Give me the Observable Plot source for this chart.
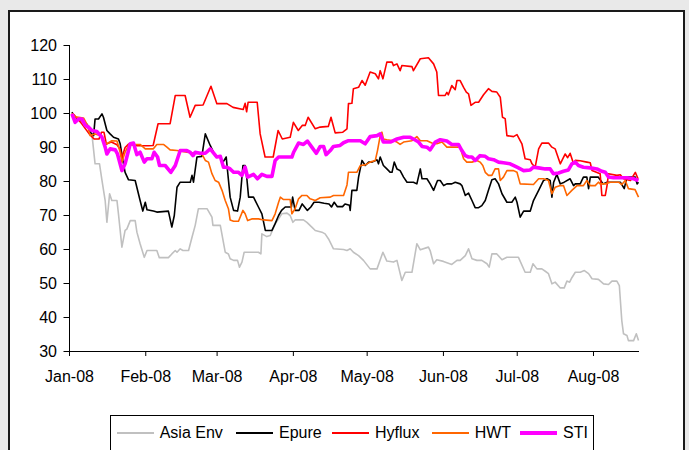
<!DOCTYPE html>
<html><head><meta charset="utf-8">
<script src="https://cdn.jsdelivr.net/npm/d3@7"></script>
<script src="https://cdn.jsdelivr.net/npm/@observablehq/plot@0.6"></script>
<style>
html,body{margin:0;padding:0;background:#e9e9e9;width:689px;height:450px;overflow:hidden;font-family:"Liberation Sans",Arial,sans-serif;}
#frame{position:absolute;left:8px;top:10px;width:673px;height:470px;background:#fff;border:2px solid #1a1a1a;}
#chart{position:absolute;left:0;top:0;}
#legend{position:absolute;left:110px;top:415px;width:484px;height:60px;border:1px solid #000;background:#fff;box-sizing:border-box;}
.item{position:absolute;top:9px;display:flex;align-items:center;font-size:16px;line-height:16px;color:#000;}
.swatch{display:inline-block;width:37px;margin-right:6px;}
</style>
</head><body>
<div id="frame"></div>
<div id="chart"></div>
<div id="legend"></div>
<script>
// Series names and colours
const seriesNames = ["Asia Env", "Epure", "Hyflux", "HWT", "STI"];
const seriesColors = ["#c0c0c0", "#000000", "#ff0000", "#ff6600", "#ff00ff"];
const seriesWidths = [1.6, 1.6, 1.6, 1.6, 3.6];

// Values: [day since 1 Jan 2008, indexed value]
const asiaEnv = [[1,100],[2.3,99],[4.3,98],[7.7,96.5],[9.1,94],[10.4,85.2],[12.2,85.2],[13.2,80.3],[14.5,74.4],[15.2,68],[16.3,76.4],[17.2,74.4],[19.3,74.4],[19.9,70.5],[21.3,60.7],[22.6,65.6],[23.3,66],[24.7,68.5],[26.7,68.5],[27.4,65.1],[28.7,61.7],[30.4,57.7],[31.5,59.7],[35.5,59.7],[36.5,57.6],[40.2,57.6],[41.6,58.7],[43,59.7],[43.7,59.2],[45,60.2],[46.1,59.7],[48.4,59.7],[49.8,63.6],[51.1,67.1],[52.4,72],[55.9,72],[57.9,69.5],[58.3,67.1],[61.3,67.1],[63.3,59.2],[64.6,58.7],[65.3,57.3],[66.7,56.8],[68.3,56.8],[69.1,54.8],[70.1,56.3],[71,59.2],[76.8,59.2],[77.8,58.7],[78.2,64.6],[80.2,63.8],[81.6,64.1],[83.6,67.6],[85,69],[86.3,70.5],[88.4,70.7],[89.7,70],[90.8,68],[91.7,68.7],[95.1,68.7],[96.5,68],[98.5,66.6],[99.9,65.6],[102.6,65.1],[103.9,64.6],[105.3,63.1],[107.3,60.2],[111.4,60],[112.8,59.7],[114.1,60.2],[115.4,59.2],[117.5,58.2],[119.5,56.8],[122.2,54.3],[125,54.3],[127.4,59.2],[129,56.6],[131.7,56.3],[133.1,56.8],[135.1,50.9],[136.5,53.3],[139.2,53.3],[141.2,61.7],[142.6,59.9],[145.9,60.7],[146.6,59.7],[148,55.8],[149.3,57],[152,56.5],[155.4,55.6],[157.5,56.8],[158.8,56.8],[160.9,58.2],[162.2,60.2],[163.6,57.3],[165.6,56.8],[167.6,56.8],[169.7,55.8],[170.6,54.8],[171.7,58.7],[173.7,58.7],[175.8,57],[177.8,57.7],[182.5,57.7],[185.2,53.3],[187.3,53.3],[188.4,55.8],[190,54.3],[192,54.3],[193.4,53.6],[194.7,52.9],[196.1,49.9],[197.4,50.4],[199.5,48.7],[201.1,48.7],[202.2,50.7],[203.3,50.4],[204.2,51.7],[205.6,53.3],[207.6,53.3],[209.3,53.8],[211,52.9],[212.4,51.4],[215,51.2],[217.1,49.9],[219.1,49.7],[220.5,50.7],[222.5,50.7],[223.5,49.4],[224.5,39.1],[225.2,35.2],[226.6,34.7],[227.2,33.2],[229.3,33.2],[230.4,35.2],[231.3,33.2]];

const epure = [[1,100.4],[2,99],[5,98],[7.1,96.8],[8.4,94.5],[9.8,93.5],[10.4,98.4],[11.8,98.4],[13.2,99.9],[13.8,98.9],[15.2,95],[16.5,94],[17.9,93],[19.9,92.5],[20.6,91.1],[21.7,86.2],[22.6,82.7],[24,80.5],[26.7,80.3],[28.7,74.4],[29.8,71.3],[30.8,73.9],[31.5,71.7],[34.1,71.3],[35.5,71],[40.2,71.3],[41.6,66.6],[42.6,70],[43.7,78.3],[45,79.8],[49.1,79.8],[49.8,81.8],[50.4,79.8],[51.8,87.2],[53.8,87.4],[55.2,94],[57.2,90.6],[59.2,87.6],[61.3,87.2],[62.4,85.7],[63.7,87.2],[64.1,84.2],[65.3,75.4],[66.7,71.5],[68.3,71.3],[69.4,75.4],[70.5,84.7],[71.4,84.7],[72.1,80.8],[72.8,75.4],[74.8,75.4],[76.8,72.5],[78.2,70.5],[79.6,65.6],[82.3,65.6],[83.6,67.6],[85,70],[86.2,71.5],[87.7,72.5],[90.2,72.5],[90.7,75.4],[91.7,71.5],[93.3,71.5],[94.6,73.4],[96.7,71.5],[98.1,72.5],[99.4,73.9],[101.4,73.9],[103.5,73.6],[105.5,73.4],[106.5,72.5],[107.6,73.9],[108.9,72.6],[111,72.6],[112,73.4],[113.8,73],[114.1,71.5],[114.8,77.4],[116.8,77.4],[117.5,81.3],[118.9,86.2],[120.2,84.7],[121.6,85.7],[123,85.7],[125,86.4],[125.6,85.2],[126.3,87.2],[127.6,84.7],[129,83.7],[130.4,82.7],[131.1,82.7],[132,85.7],[133.1,83.7],[134.4,83.2],[135.8,81.3],[137.2,79.8],[139.8,79.8],[141.2,79.3],[142.6,83.7],[143.3,80.8],[145.3,80.8],[146.6,79.3],[148,77.4],[149.6,80.3],[150.7,80.3],[152.1,78.8],[153.4,79.3],[155.4,79.3],[156.8,79.8],[158.8,79.3],[159.5,78.8],[160.9,75.9],[162.2,76.6],[163.6,74.4],[164.9,72.3],[166.3,72.3],[167.6,72.9],[169,74.4],[170.3,77.4],[171.7,80.5],[173,80.8],[174.4,79.3],[175.8,76.4],[177.8,73.9],[179.8,73.9],[181.2,75.4],[181.9,73.9],[183.2,69.5],[184.6,71.3],[187.3,71.3],[188.6,74.4],[190.7,77.4],[192.7,80.3],[194.1,80.8],[195.4,80.3],[196.1,75.4],[196.8,79.8],[198.1,82.1],[199.5,79.3],[201.1,79.8],[203.5,80.8],[204.9,78.8],[205.6,79.3],[207.6,79.3],[208.9,81.3],[210.3,81.3],[211,77.9],[211.7,81.3],[214.9,81.3],[216.9,79.3],[218.5,79.8],[223.9,79.8],[225.5,77.9],[226.6,81.3],[230,81.3],[230.7,79.3],[231.3,79.8]];

const hyflux = [[1,100],[2,99.5],[5,97],[8,94],[10,92.5],[12,92.5],[13,94.5],[14,94.5],[15,91],[17,91.6],[19.3,90.8],[20.6,89.5],[21.3,87],[22.6,90],[24,91],[27.5,90.5],[32,90.5],[34,90.6],[36,97],[40.9,97],[43,105.3],[47,105.3],[49,98.9],[51.1,102.4],[54.3,102.5],[57.5,108],[59.9,102.9],[64,102.9],[66.5,101.8],[70.6,101.2],[71.4,103],[72,100.5],[72.6,103.3],[76.3,103.3],[77.5,94],[79.5,87.2],[82.8,87.2],[84.8,95],[86.5,92.5],[89.7,93],[91,97.4],[93,95],[94.6,96.5],[95.8,96.5],[97,98.9],[99.9,95.5],[101.9,96],[105.2,96.2],[106.3,98.9],[108,94.3],[111.1,94.5],[112.8,95.5],[113.4,102.9],[114.8,103],[115.4,107.3],[117.5,107.7],[118.9,109.7],[120.2,108.3],[122.2,112.2],[124.3,111.7],[125.6,110.2],[126.3,112.6],[127.4,110.2],[129,115.1],[131.1,115.1],[131.7,114.1],[133.1,114.6],[134.4,112.6],[135.1,114.1],[139.2,113.8],[139.8,112.6],[142.6,116.1],[145.9,116.4],[148,114.6],[149.3,112.2],[150,105.3],[152.7,105.3],[153.4,106.2],[154,105.5],[155.4,108.2],[156.8,107],[157.5,109.7],[158.8,109.7],[160.2,107.7],[161.3,106.3],[162.2,105.8],[163.2,102.4],[164.9,103.3],[166.3,103.3],[168.3,105.5],[170.3,107.3],[171.7,106.5],[173.7,106.3],[175.1,104.8],[176,98.9],[177.1,98.5],[177.8,93.5],[180.5,93.2],[181.9,93.8],[183.9,91.1],[185.2,86.7],[187.3,86.4],[188,85.2],[189.3,84.2],[190.7,89.6],[192,91.3],[194.7,91.3],[196.1,90.1],[197.4,89.6],[199.5,85.2],[201.5,88.1],[202.5,87],[203.5,88.3],[204.9,85.2],[205.6,86.2],[207.6,86.1],[210.3,85.7],[211.7,85.5],[212.4,83.2],[215.7,82.3],[216.4,75.9],[217.8,75.9],[218.5,78.8],[219.1,82.3],[222.5,81.8],[223.9,82],[225.2,80.8],[228,80.3],[230,82.7],[231.1,80.8]];

const hwt = [[1,100],[2.3,99],[5.7,98.7],[7.3,96.5],[8.4,93.5],[10.4,94],[12.5,93.5],[13.8,92],[15.2,91.1],[17.2,92],[19.3,91.9],[20.6,88.6],[21.3,85.7],[22.6,88.6],[24,90.6],[25.4,90.9],[28.7,90.9],[30.8,89.6],[34.1,89.6],[35.5,90.9],[38.2,90.9],[39.6,90.1],[40.9,89.3],[43.7,89.1],[47.7,88.6],[51.1,88.3],[53.8,88.1],[55.2,86.2],[56.5,85.7],[57.9,82.3],[59.2,80.3],[60.6,79.8],[62,77.4],[63.3,74.4],[64.6,72],[65.3,68.7],[66.7,68.3],[68.7,68.3],[70.5,71.5],[71.4,70.5],[72.4,68.5],[74.1,69],[76.8,69],[78.9,68.7],[82.3,68.5],[83.6,70.5],[85,73.9],[85.7,75.4],[87,74.7],[89.7,74.7],[90.4,70.5],[91.7,72],[93.1,74.9],[94.5,75.9],[96.5,75.9],[97.8,74.9],[99.9,74.4],[101.9,75.2],[106,75.4],[107.3,75.9],[111.4,75.9],[112.8,79],[113.4,82.7],[116.8,82.7],[118.2,84.7],[120.2,84.9],[122.2,85.7],[124.3,86.2],[125.2,89.1],[126.3,93.5],[127,94.5],[127.6,92.5],[129,92.3],[131.7,92],[133.1,91.6],[134.4,90.9],[135.8,91.6],[139.2,92],[141.2,93.2],[142.6,92],[145.3,92],[147.3,91.3],[149.3,91.1],[151.4,91.6],[153.4,90.1],[158.8,90.1],[160.2,86.7],[161.5,85.7],[163.6,85.7],[165.6,86.2],[166.9,85.7],[168,84.7],[169,82.7],[170.3,81.8],[171.7,81.8],[173,83.7],[174.4,83.7],[175.1,80.3],[176.4,81.3],[177.8,83.2],[180.5,83.2],[181.9,82.7],[183.2,79.3],[188.6,79.1],[190.7,80.8],[192.7,80.8],[194.7,80.3],[196.1,76.4],[197.4,78.3],[199.5,78.8],[200.8,78.8],[202.2,75.9],[204.2,77.4],[206.3,78.8],[208.9,78.8],[210.3,80.3],[211.7,78.8],[213.7,78.8],[215,79.8],[215.7,79.3],[217.8,79.3],[219.8,79.8],[223.2,79.8],[224.5,79.1],[225.9,80.3],[227.2,77.9],[229.9,77.6],[231.3,75.4]];

const sti = [[1,99.9],[2.3,97.4],[3.7,98.4],[5,98.4],[6.4,96.5],[7.7,96],[9.1,95],[11.1,94.7],[13.2,93],[14.5,90.1],[15.2,88.1],[16.5,89.6],[18.6,89.3],[19.5,88.1],[21.3,83.2],[22.6,85.2],[24.7,91.1],[26,91.3],[27.4,87.9],[28.7,88.6],[30.4,85.7],[31.5,86.7],[33.5,86.7],[34.4,88.6],[35.8,87.2],[36.6,84.7],[38.9,84.7],[41.2,82.7],[43,84.7],[45,89.1],[47.7,89.1],[49.1,88.6],[50.2,87.6],[51.1,88.6],[53.1,88.3],[55.2,88.3],[57.2,89.6],[59.9,87.2],[61.3,87.4],[62.6,84.2],[64,84.2],[65.3,83.7],[66.7,82.7],[68.7,82.7],[70.1,81.8],[71.4,84.2],[72.4,81.3],[74.8,82.1],[76.4,80.8],[78.2,82.1],[80.2,81.5],[82.3,81.5],[83.6,86.2],[85,87.2],[90.4,87.2],[91.1,88.6],[93.1,91.3],[95.1,90.9],[96.7,91.9],[98.5,90.1],[100.3,88.3],[101.9,90.3],[103.3,90.3],[104.3,87.9],[106,89.1],[107.3,90.3],[110,90.6],[111.4,91.4],[113.4,92],[118.2,92],[120.2,91.1],[122.2,93.2],[125,93.5],[126.3,94],[127.6,91.6],[130.4,91.6],[133.1,92.5],[135.8,93],[138.5,93],[139.8,92.5],[141.9,91.6],[143.3,90.3],[145.3,90.1],[146.6,89.3],[148.7,91.6],[150.7,92.3],[153.4,91.9],[155.4,90.9],[158.1,90.9],[159.5,89.1],[160.9,87.6],[162.2,87.2],[163.6,87.2],[164.9,86.2],[166.9,87.6],[169,87.4],[170.3,86.7],[172.4,86.4],[174.4,85.7],[176.4,85.5],[179.1,85.2],[181.9,84.2],[184.6,83.2],[187.3,83.4],[188.6,84.2],[190.7,84],[193.4,83.7],[195.4,83.7],[196.7,82.3],[198.8,82.5],[200.8,83],[202.8,83.4],[204.2,85.2],[205.6,85.7],[206.9,84.7],[208.9,84.2],[211.7,84],[214.4,83.7],[216.4,83],[217.8,82.7],[219.1,81.3],[221.1,81.1],[226.6,81.1],[229.3,80.8],[231.3,80.3]];

const seriesValues = [asiaEnv, epure, hyflux, hwt, sti];

// Axis ticks
const yTicks = [30, 40, 50, 60, 70, 80, 90, 100, 110, 120];
const monthTicks = ["2008-01-01","2008-02-01","2008-03-01","2008-04-01","2008-05-01","2008-06-01","2008-07-01","2008-08-01"];
const domainDays = 231.7;

const t0 = Date.UTC(2008, 0, 1);
const toDate = d => new Date(t0 + d * 864e5);
const xDomain = [toDate(0), toDate(domainDays)];
const xTicks = monthTicks.map(s => new Date(s + "T00:00:00Z"));

const lineMarks = seriesValues.map((s, i) =>
  Plot.line(s.map(([d, v]) => ({date: toDate(d), value: v})), {
    x: "date", y: "value", stroke: seriesColors[i], strokeWidth: seriesWidths[i],
    strokeLinejoin: "round", strokeLinecap: "butt"
  })
);

const chart = Plot.plot({
  width: 689, height: 395,
  marginLeft: 69, marginRight: 50, marginTop: 45, marginBottom: 44,
  style: {fontFamily: "'Liberation Sans', Arial, sans-serif", fontSize: "16px", color: "#000", background: "transparent", overflow: "visible"},
  x: {type: "utc", domain: xDomain, label: null},
  y: {domain: [30, 120], label: null},
  marks: [
    Plot.axisY({ticks: yTicks, tickSize: 5.5, tickPadding: 7, tickFormat: d => String(d), stroke: "#000", label: null}),
    Plot.axisX({ticks: xTicks, tickSize: 5, tickPadding: 14, tickFormat: d3.utcFormat("%b-%y"), stroke: "#000", label: null}),
    ...lineMarks,
    Plot.ruleY([30], {stroke: "#000", strokeWidth: 1}),
    Plot.ruleX([xDomain[0]], {y1: 30, y2: 120, stroke: "#000", strokeWidth: 1})
  ]
});
document.getElementById("chart").appendChild(chart);

// Legend
const legend = document.getElementById("legend");
const itemLefts = [5.7, 125, 221, 320.7, 409];
seriesNames.forEach((name, i) => {
  const it = document.createElement("div");
  it.className = "item";
  it.style.left = itemLefts[i] + "px";
  const sw = document.createElement("span");
  sw.className = "swatch";
  sw.style.borderTop = (i === 4 ? 4 : 2) + "px solid " + seriesColors[i];
  const tx = document.createElement("span");
  tx.textContent = name;
  it.appendChild(sw); it.appendChild(tx);
  legend.appendChild(it);
});
</script>
</body></html>
